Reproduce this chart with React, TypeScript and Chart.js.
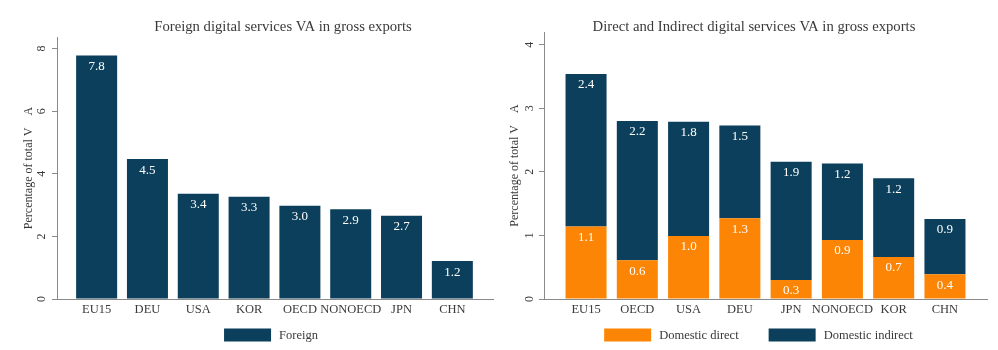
import React, { useEffect, useRef } from 'react';
import { Chart, registerables } from 'chart.js';

Chart.register(...registerables);

const NAVY = '#0b3f5b';
const ORANGE = '#fd8505';
const AXIS = '#8a8a8a';
const TEXT = '#3a3a3a';
const FONT = "'Liberation Serif', 'Times New Roman', serif";

// ---- data ----
const foreignTitle = 'Foreign digital services VA in gross exports';
const foreignCategories = ['EU15', 'DEU', 'USA', 'KOR', 'OECD', 'NONOECD', 'JPN', 'CHN'];
const foreignValues = [7.78, 4.47, 3.36, 3.27, 2.98, 2.87, 2.66, 1.21];
const foreignYTicks = [0, 2, 4, 6, 8];

const domesticTitle = 'Direct and Indirect digital services VA in gross exports';
const domesticCategories = ['EU15', 'OECD', 'USA', 'DEU', 'JPN', 'NONOECD', 'KOR', 'CHN'];
const domesticDirect = [1.14, 0.61, 0.99, 1.27, 0.3, 0.93, 0.66, 0.39];
const domesticIndirect = [2.4, 2.19, 1.8, 1.46, 1.86, 1.2, 1.24, 0.87];
const domesticYTicks = [0, 1, 2, 3, 4];

const yAxisTitle = 'Percentage of total V    A';

const decorPlugin = {
  id: 'decor',
  afterDatasetsDraw(chart: any, _args: any, opts: any) {
    const ctx = chart.ctx;
    ctx.save();
    ctx.font = `13px ${FONT}`;
    ctx.fillStyle = '#ffffff';
    ctx.textAlign = 'center';
    ctx.textBaseline = 'middle';
    chart.data.datasets.forEach((ds: any, di: number) => {
      const meta = chart.getDatasetMeta(di);
      meta.data.forEach((el: any, i: number) => {
        const v = ds.data[i].y;
        ctx.fillText(v.toFixed(1), el.x, el.y + opts.labelOffset);
      });
    });
    ctx.restore();
  },
  afterDraw(chart: any, _args: any, opts: any) {
    const ctx = chart.ctx;
    // title
    ctx.save();
    ctx.font = `14.7px ${FONT}`;
    ctx.fillStyle = TEXT;
    ctx.textAlign = 'center';
    ctx.textBaseline = 'alphabetic';
    ctx.fillText(opts.title, opts.titleX, opts.titleY);
    ctx.restore();

    // rotated y tick labels
    const ys = chart.scales.y;
    ctx.save();
    ctx.font = `12px ${FONT}`;
    ctx.fillStyle = TEXT;
    ys.ticks.forEach((t: any) => {
      const py = ys.getPixelForValue(t.value);
      ctx.save();
      ctx.translate(ys.right - opts.yLabelGap, py);
      ctx.rotate(-Math.PI / 2);
      ctx.textAlign = 'center';
      ctx.textBaseline = 'alphabetic';
      ctx.fillText(String(t.value), 0, 0);
      ctx.restore();
    });
    ctx.restore();

    // legend
    ctx.save();
    ctx.font = `12.5px ${FONT}`;
    const boxW = 47;
    const boxH = 13;
    const gap = 8;
    const itemGap = 30;
    const items = chart.data.datasets.map((ds: any) => ({
      label: ds.label,
      color: ds.backgroundColor,
      w: ctx.measureText(ds.label).width,
    }));
    const total =
      items.reduce((s: number, it: any) => s + boxW + gap + it.w, 0) + itemGap * (items.length - 1);
    let x = opts.legendX - total / 2;
    const cy = opts.legendY;
    items.forEach((it: any) => {
      ctx.fillStyle = it.color;
      ctx.fillRect(x, cy - boxH / 2, boxW, boxH);
      ctx.fillStyle = TEXT;
      ctx.textAlign = 'left';
      ctx.textBaseline = 'middle';
      ctx.fillText(it.label, x + boxW + gap, cy + 1);
      x += boxW + gap + it.w + itemGap;
    });
    ctx.restore();
  },
};

type PanelProps = {
  categories: string[];
  datasets: { label: string; values: number[]; color: string }[];
  yTicks: number[];
  yMax: number;
  xMin: number;
  xMax: number;
  barPct: number;
  stacked: boolean;
  padding: { left: number; right: number; top: number };
  yWidth: number;
  title: string;
  titleX: number;
  legendX: number;
  yLabelGap: number;
};

function Panel(p: PanelProps) {
  const ref = useRef<HTMLCanvasElement>(null);
  useEffect(() => {
    if (!ref.current) return;
    const chart = new Chart(ref.current, {
      type: 'bar',
      data: {
        datasets: p.datasets.map((d) => ({
          label: d.label,
          data: d.values.map((v, i) => ({ x: i, y: v })),
          backgroundColor: d.color,
          borderWidth: 0,
          categoryPercentage: 1,
          barPercentage: p.barPct,
        })),
      },
      options: {
        responsive: false,
        animation: false,
        events: [],
        layout: { padding: { left: p.padding.left, right: p.padding.right, top: p.padding.top, bottom: 0 } },
        plugins: {
          legend: { display: false },
          title: { display: false },
          tooltip: { enabled: false },
          decor: {
            title: p.title,
            titleX: p.titleX,
            titleY: 31,
            legendX: p.legendX,
            legendY: 335,
            labelOffset: 11,
            yLabelGap: p.yLabelGap,
          },
        } as any,
        scales: {
          x: {
            type: 'linear',
            stacked: p.stacked,
            min: p.xMin,
            max: p.xMax,
            offset: false,
            afterBuildTicks: (s: any) => {
              s.ticks = p.categories.map((_, i) => ({ value: i }));
            },
            afterFit: (s: any) => {
              s.height = 51;
            },
            ticks: {
              autoSkip: false,
              maxRotation: 0,
              minRotation: 0,
              padding: 3,
              color: TEXT,
              font: { family: FONT, size: 12.5 },
              callback: (v: any) => p.categories[v] ?? '',
            },
            grid: { display: true, drawOnChartArea: false, drawTicks: false, color: AXIS },
            border: { display: true, color: AXIS, width: 1 },
          },
          y: {
            type: 'linear',
            stacked: p.stacked,
            min: 0,
            max: p.yMax,
            afterBuildTicks: (s: any) => {
              s.ticks = p.yTicks.map((v) => ({ value: v }));
            },
            afterFit: (s: any) => {
              s.width = p.yWidth;
            },
            ticks: { display: false },
            grid: { display: true, drawOnChartArea: false, drawTicks: true, tickLength: 5, color: AXIS },
            border: { display: true, color: AXIS, width: 1 },
            title: {
              display: true,
              text: yAxisTitle,
              color: TEXT,
              font: { family: FONT, size: 12 },
              padding: 0,
            },
          },
        },
      },
      plugins: [decorPlugin as any],
    });
    return () => chart.destroy();
  }, []);
  return <canvas ref={ref} width={499} height={350} style={{ display: 'block', width: 499, height: 350 }} />;
}

export default function App() {
  return (
    <div
      style={{
        position: 'fixed',
        left: 0,
        top: 0,
        width: 998,
        height: 350,
        display: 'flex',
        background: '#ffffff',
      }}
    >
      <Panel
        categories={foreignCategories}
        datasets={[{ label: 'Foreign', values: foreignValues, color: NAVY }]}
        yTicks={foreignYTicks}
        yMax={8.37}
        xMin={-0.78}
        xMax={7.8}
        barPct={0.807}
        stacked={false}
        padding={{ left: 22, right: 6, top: 37 }}
        yWidth={35}
        title={foreignTitle}
        titleX={283}
        legendX={271}
        yLabelGap={12.5}
      />
      <Panel
        categories={domesticCategories}
        datasets={[
          { label: 'Domestic direct', values: domesticDirect, color: ORANGE },
          { label: 'Domestic indirect', values: domesticIndirect, color: NAVY },
        ]}
        yTicks={domesticYTicks}
        yMax={4.2}
        xMin={-0.82}
        xMax={7.82}
        barPct={0.8}
        stacked={true}
        padding={{ left: 9, right: 11, top: 32 }}
        yWidth={36}
        title={domesticTitle}
        titleX={255}
        legendX={259.5}
        yLabelGap={11.5}
      />
    </div>
  );
}
